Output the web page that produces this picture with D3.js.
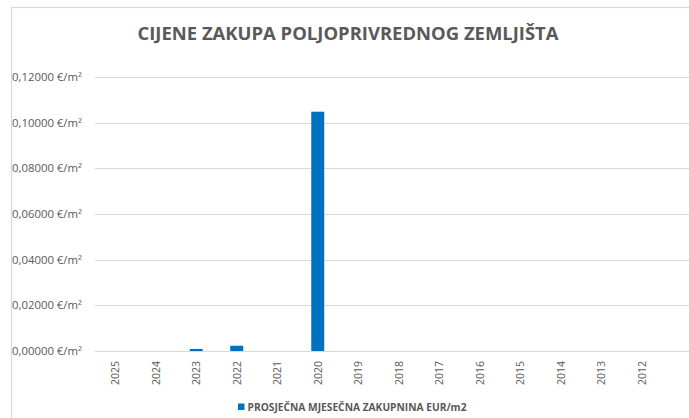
<!DOCTYPE html>
<html>
<head>
<meta charset="utf-8">
<script src="https://cdn.jsdelivr.net/npm/d3@7/dist/d3.min.js"></script>
<style>
  html, body { margin: 0; padding: 0; background: #fff; }
  svg { display: block; }
</style>
</head>
<body>
<svg id="chart" width="689" height="418"></svg>
<script>
// Average monthly lease price of agricultural land, per year
const years = ["2025", "2024", "2023", "2022", "2021", "2020", "2019", "2018",
               "2017", "2016", "2015", "2014", "2013", "2012"];
const prices = [0, 0, 0.0009, 0.0023, 0, 0.1048, 0, 0, 0, 0, 0, 0, 0, 0];
const yTicks = [0, 0.02, 0.04, 0.06, 0.08, 0.10, 0.12];
const titleText = "CIJENE ZAKUPA POLJOPRIVREDNOG ZEMLJIŠTA";
const seriesName = "PROSJEČNA MJESEČNA ZAKUPNINA EUR/m2";

const W = 689, H = 418;
const font = "'Open Sans', 'Noto Sans', sans-serif";
const gray = "#595959";
const gridColor = "#d9d9d9";
const barColor = "#0070c0";

const svg = d3.select("#chart");

// chart frame
svg.append("rect")
  .attr("x", 11.5).attr("y", 7.5)
  .attr("width", W + 20).attr("height", H + 20)
  .attr("fill", "#fff")
  .attr("stroke", gridColor).attr("stroke-width", 1.2);

const plotLeft = 95, plotRight = 689;
const x = d3.scaleBand().domain(years).range([95, 662]).paddingInner(0.68).paddingOuter(0.34);
const y = d3.scaleLinear().domain([0, 0.12]).range([351, 77]);

// gridlines
svg.append("g")
  .selectAll("line")
  .data(yTicks)
  .join("line")
  .attr("x1", plotLeft).attr("x2", plotRight)
  .attr("y1", d => Math.round(y(d)) + 0.5).attr("y2", d => Math.round(y(d)) + 0.5)
  .attr("stroke", gridColor).attr("stroke-width", 1);

// y-axis labels
const fmt = d => d3.format(".5f")(d).replace(".", ",") + " €/m²";
svg.append("g")
  .selectAll("text")
  .data(yTicks)
  .join("text")
  .attr("x", 12)
  .attr("y", d => y(d) + 4)
  .attr("font-family", font).attr("font-size", 11)
  .attr("fill", gray)
  .attr("textLength", 70).attr("lengthAdjust", "spacingAndGlyphs")
  .text(fmt);

// bars
svg.append("g")
  .selectAll("rect")
  .data(years.map((yr, i) => ({ yr, v: prices[i] })))
  .join("rect")
  .attr("x", d => x(d.yr))
  .attr("width", x.bandwidth())
  .attr("y", d => y(d.v))
  .attr("height", d => y(0) - y(d.v))
  .attr("fill", barColor);

// x-axis category labels (rotated)
const xAxis = d3.axisBottom(x).tickSize(0).tickPadding(0);
const gx = svg.append("g").attr("transform", `translate(0,${y(0)})`).call(xAxis);
gx.select(".domain").remove();
gx.selectAll("text")
  .attr("font-family", font).attr("font-size", 10.5)
  .attr("fill", gray)
  .attr("text-anchor", "end")
  .attr("dy", null)
  .attr("y", 0)
  .attr("x", 0)
  .attr("transform", "translate(4,10) rotate(-90)");

// title
svg.append("text")
  .attr("x", 348).attr("y", 40)
  .attr("text-anchor", "middle")
  .attr("font-family", font).attr("font-size", 18).attr("font-weight", "bold")
  .attr("fill", gray)
  .attr("textLength", 421).attr("lengthAdjust", "spacingAndGlyphs")
  .text(titleText);

// legend
const lg = svg.append("g");
lg.append("rect")
  .attr("x", 238).attr("y", 403.5).attr("width", 6.5).attr("height", 6.5)
  .attr("fill", barColor);
lg.append("text")
  .attr("x", 247.5).attr("y", 410.5)
  .attr("font-family", font).attr("font-size", 10).attr("font-weight", "bold")
  .attr("fill", gray)
  .attr("textLength", 219).attr("lengthAdjust", "spacingAndGlyphs")
  .text(seriesName);
</script>
</body>
</html>
